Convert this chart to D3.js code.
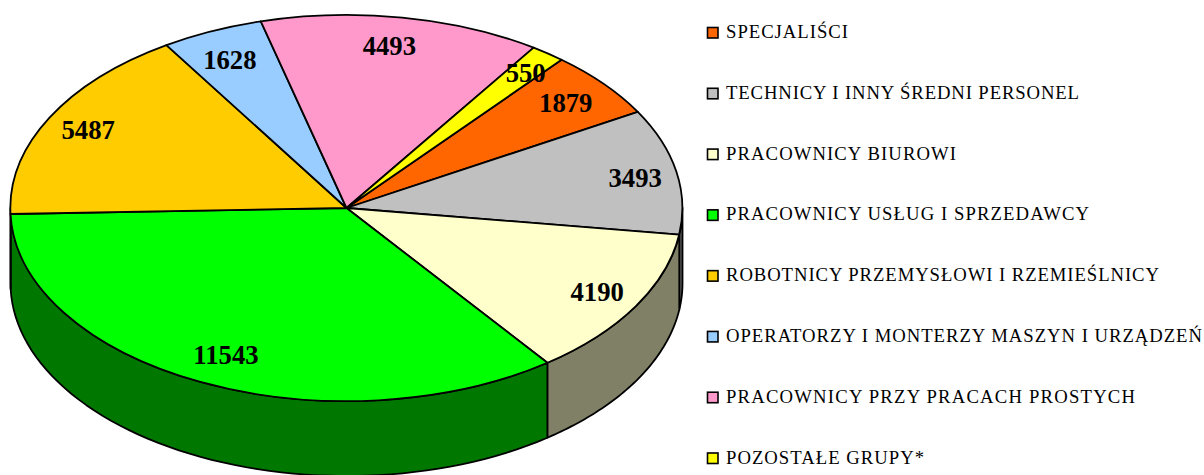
<!DOCTYPE html>
<html><head><meta charset="utf-8">
<script src="https://cdn.jsdelivr.net/npm/d3@7/dist/d3.min.js"></script>
<style>html,body{margin:0;padding:0;background:#fff;overflow:hidden}svg{display:block}</style>
</head><body><svg id="c" width="1204" height="475"></svg>
<script>
const categories = ["SPECJALIŚCI","TECHNICY I INNY ŚREDNI PERSONEL","PRACOWNICY BIUROWI","PRACOWNICY USŁUG I SPRZEDAWCY","ROBOTNICY PRZEMYSŁOWI I RZEMIEŚLNICY","OPERATORZY I MONTERZY MASZYN I URZĄDZEŃ","PRACOWNICY PRZY PRACACH PROSTYCH","POZOSTAŁE GRUPY*"];
const values = [1879,3493,4190,11543,5487,1628,4493,550];
const topColors = ["#FF6600","#C0C0C0","#FFFFCC","#00FF00","#FFCC00","#99CCFF","#FF99CC","#FFFF00"];
const wallColors = ["#803300","#606060","#808066","#007800","#806600","#4d6680","#804d66","#808000"];
const labelShiftX = [-2,5,2,5,-3,-1,-5,6];
const labelShiftY = [2,1,-1,-3,0,4,2,-2];
const legendWidths = [122,353,230,363,433,476,409,198];

const cx=346.5, cy=208, rx=336, ry=193, depth=75;
const svg=d3.select("#c");
const start=39.8*Math.PI/180;
const pie=d3.pie().sort(null).value(d=>d).startAngle(start).endAngle(start+2*Math.PI);
const arcs=pie(values);
const px=a=>cx+rx*Math.sin(a), py=a=>cy-ry*Math.cos(a);
const TAU=2*Math.PI, lo=Math.PI/2, hi=1.5*Math.PI;

const wallLine=d3.line().x(d=>d[0]).y(d=>d[1]);
const walls=svg.append("g");
arcs.forEach((d,i)=>{
  [0,TAU].forEach(shift=>{
    const a0=Math.max(d.startAngle-shift,lo), a1=Math.min(d.endAngle-shift,hi);
    if(a1<=a0) return;
    const as=d3.range(0,61).map(k=>a0+(a1-a0)*k/60);
    const pts=as.map(a=>[px(a),py(a)]).concat(as.slice().reverse().map(a=>[px(a),py(a)+depth]));
    walls.append("path").attr("d",wallLine(pts)+"Z")
      .attr("fill",wallColors[i]).attr("stroke","#000").attr("stroke-width",1.8).attr("stroke-linejoin","round");
  });
});

const arc=d3.arc().innerRadius(0).outerRadius(1);
svg.append("g").attr("transform",`translate(${cx},${cy}) scale(${rx},${ry})`)
  .selectAll("path").data(arcs).join("path")
  .attr("d",arc).attr("fill",(d,i)=>topColors[i]).attr("stroke","#000")
  .attr("stroke-width",1.8).attr("vector-effect","non-scaling-stroke").attr("stroke-linejoin","round");

const labelArc=d3.arc().innerRadius(0.86).outerRadius(0.86);
svg.append("g").selectAll("text").data(arcs).join("text")
  .attr("x",(d,i)=>cx+rx*labelArc.centroid(d)[0]+labelShiftX[i]).attr("y",(d,i)=>cy+ry*labelArc.centroid(d)[1]+labelShiftY[i])
  .attr("dy","0.34em").attr("text-anchor","middle")
  .attr("font-family","'Liberation Serif',serif").attr("font-weight","bold").attr("font-size",26.7)
  .attr("fill","#000").text(d=>d.data);

const ly=d3.scalePoint().domain(categories).range([32.5,458]);
const lg=svg.append("g").selectAll("g").data(categories).join("g")
  .attr("transform",d=>`translate(0,${ly(d)})`);
lg.append("rect").attr("x",707.5).attr("y",-5).attr("width",10.5).attr("height",10.5)
  .attr("fill",(d,i)=>topColors[i]).attr("stroke","#000").attr("stroke-width",1.6);
lg.append("text").attr("x",726).attr("y",5.5)
  .attr("textLength",(d,i)=>legendWidths[i]).attr("lengthAdjust","spacing")
  .attr("font-family","'Liberation Serif',serif").attr("font-size",18.7).attr("fill","#000").text(d=>d);
</script></body></html>
